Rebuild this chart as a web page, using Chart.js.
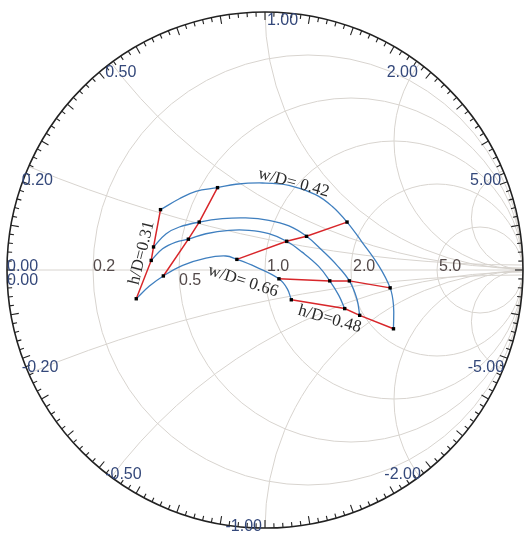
<!DOCTYPE html>
<html lang="en">
  <head>
    <meta charset="UTF-8" />
    <title>Smith Chart</title>
    <script src="https://cdn.jsdelivr.net/npm/chart.js"></script>
    <style>
      body {
        margin: 0;
        background: #fff;
      }
      #smith {
        display: block;
      }
    </style>
  </head>
  <body>
    <canvas id="smith" width="527" height="534"></canvas>

    <script>
      // Smith chart grid values
      const resistanceCircles = [0.2, 0.5, 1, 2, 5];
      const resistanceLabels = ["0.2", "0.5", "1.0", "2.0", "5.0"];
      const reactanceArcs = [0.2, 0.5, 1, 2, 5, -0.2, -0.5, -1, -2, -5];
      const reactanceLabels = ["0.20", "0.50", "1.00", "2.00", "5.00",
        "-0.20", "-0.50", "-1.00", "-2.00", "-5.00"];

      // constant w/D curves, reflection coefficient (re, im)
      // marks = indices of the measured points (black squares)
      const wdA_re = [-0.405, -0.332, -0.268, -0.184, -0.113, -0.010, 0.093, 0.196, 0.260, 0.318, 0.376, 0.440, 0.485, 0.498, 0.498];
      const wdA_im = [0.233, 0.275, 0.304, 0.318, 0.331, 0.336, 0.327, 0.291, 0.246, 0.185, 0.108, 0.018, -0.069, -0.136, -0.227];
      const wdA_marks = [0, 3, 9, 12, 14];

      const wdB_re = [-0.432, -0.383, -0.332, -0.255, -0.165, -0.075, 0.015, 0.093, 0.161, 0.221, 0.279, 0.327, 0.356, 0.367];
      const wdB_im = [0.089, 0.140, 0.166, 0.185, 0.198, 0.201, 0.192, 0.170, 0.130, 0.076, 0.018, -0.042, -0.111, -0.175];
      const wdB_marks = [0, 3, 8, 11, 13];

      const wdC_re = [-0.441, -0.397, -0.345, -0.297, -0.229, -0.139, -0.062, 0.015, 0.084, 0.144, 0.208, 0.251, 0.286, 0.309];
      const wdC_im = [0.037, 0.082, 0.108, 0.119, 0.140, 0.153, 0.153, 0.140, 0.111, 0.069, 0.014, -0.042, -0.098, -0.149];
      const wdC_marks = [0, 3, 8, 11, 13];

      const wdD_re = [-0.499, -0.448, -0.394, -0.319, -0.229, -0.152, -0.109, -0.036, 0.054, 0.086, 0.102];
      const wdD_im = [-0.111, -0.062, -0.023, 0.018, 0.046, 0.054, 0.041, 0.012, -0.034, -0.072, -0.115];
      const wdD_marks = [0, 2, 6, 8, 10];

      const curveRe = [wdA_re, wdB_re, wdC_re, wdD_re];
      const curveIm = [wdA_im, wdB_im, wdC_im, wdD_im];
      const curveMarks = [wdA_marks, wdB_marks, wdC_marks, wdD_marks];

      // text notes on the curves: text, position (re, im), angle in degrees
      const noteText = ["w/D= 0.42", "w/D= 0.66", "h/D=0.31", "h/D=0.48"];
      const noteRe = [0.111, -0.085, -0.478, 0.251];
      const noteIm = [0.336, -0.043, 0.066, -0.190];
      const noteAngle = [15, 18, -76, 16];

      const BLUE = "#3f7fbf";
      const RED = "#d8262a";

      const datasets = [];
      // red lines of constant h/D through the k-th mark of every curve
      for (let k = 0; k < 5; k++) {
        datasets.push({
          data: curveRe.map((re, c) => ({ x: re[curveMarks[c][k]], y: curveIm[c][curveMarks[c][k]] })),
          showLine: true,
          borderColor: RED,
          borderWidth: 1.5,
          pointStyle: "rect",
          pointRadius: 2.4,
          pointBackgroundColor: "#000",
          pointBorderColor: "#000",
          pointBorderWidth: 0,
          order: 0,
        });
      }
      // blue curves of constant w/D
      curveRe.forEach((re, c) => {
        datasets.push({
          data: re.map((v, i) => ({ x: v, y: curveIm[c][i] })),
          showLine: true,
          borderColor: BLUE,
          borderWidth: 1.3,
          pointRadius: 0,
          tension: 0.4,
          order: 1,
        });
      });

      const smithGrid = {
        id: "smithGrid",
        beforeDatasetsDraw(chart) {
          const ctx = chart.ctx;
          const xs = chart.scales.x;
          const ys = chart.scales.y;
          const cx = xs.getPixelForValue(0);
          const cy = ys.getPixelForValue(0);
          const R = xs.getPixelForValue(1) - cx;
          const px = (v) => xs.getPixelForValue(v);
          const py = (v) => ys.getPixelForValue(v);

          // grid circles, clipped to the unit circle
          ctx.save();
          ctx.beginPath();
          ctx.arc(cx, cy, R, 0, 2 * Math.PI);
          ctx.clip();
          ctx.strokeStyle = "#d8d4cf";
          ctx.lineWidth = 1;
          resistanceCircles.forEach((r) => {
            ctx.beginPath();
            ctx.arc(px(r / (1 + r)), cy, R / (1 + r), 0, 2 * Math.PI);
            ctx.stroke();
          });
          reactanceArcs.forEach((x) => {
            ctx.beginPath();
            ctx.arc(px(1), py(1 / x), R / Math.abs(x), 0, 2 * Math.PI);
            ctx.stroke();
          });
          ctx.beginPath();
          ctx.moveTo(cx - R, cy);
          ctx.lineTo(cx + R, cy);
          ctx.stroke();
          ctx.restore();

          // outer rim and its ticks
          ctx.save();
          ctx.strokeStyle = "#222";
          ctx.lineWidth = 1.6;
          ctx.beginPath();
          ctx.arc(cx, cy, R, 0, 2 * Math.PI);
          ctx.stroke();
          ctx.lineWidth = 1.1;
          for (let deg = 0; deg < 360; deg += 2) {
            const a = (deg * Math.PI) / 180;
            const len = deg % 10 === 0 ? 8 : 4.5;
            ctx.beginPath();
            ctx.moveTo(cx + R * Math.cos(a), cy - R * Math.sin(a));
            ctx.lineTo(cx + (R - len) * Math.cos(a), cy - (R - len) * Math.sin(a));
            ctx.stroke();
          }

          // labels
          ctx.font = "16px 'Liberation Sans', Arial, sans-serif";
          ctx.fillStyle = "#34487a";
          reactanceArcs.forEach((x, i) => {
            const re = (x * x - 1) / (x * x + 1);
            const im = (2 * x) / (x * x + 1);
            const X = px(re);
            const Y = py(im);
            const upper = x > 0;
            let align, dx;
            if (Math.abs(re) < 0.01) {
              align = upper ? "left" : "right";
              dx = upper ? 2 : -3;
            } else if (re < 0) {
              align = "left";
              dx = -5;
            } else {
              align = "right";
              dx = upper ? -2 : 1;
            }
            ctx.textAlign = align;
            ctx.textBaseline = upper ? "top" : "alphabetic";
            ctx.fillText(reactanceLabels[i], X + dx, Y + 2);
          });
          ctx.textAlign = "left";
          ctx.textBaseline = "alphabetic";
          ctx.fillText("0.00", cx - R, cy + 1);
          ctx.textBaseline = "top";
          ctx.fillText("0.00", cx - R, cy + 3);

          ctx.fillStyle = "#544a4a";
          resistanceCircles.forEach((r, i) => {
            const X = px((r - 1) / (r + 1));
            const below = r === 0.5;
            ctx.textBaseline = below ? "top" : "alphabetic";
            ctx.fillText(resistanceLabels[i], X + (r < 1 ? 0 : 2), below ? cy + 3 : cy + 1);
          });
          ctx.restore();
        },
        afterDatasetsDraw(chart) {
          const ctx = chart.ctx;
          const xs = chart.scales.x;
          const ys = chart.scales.y;
          ctx.save();
          ctx.font = "17px 'Liberation Serif', 'Times New Roman', serif";
          ctx.fillStyle = "#2b2b2b";
          ctx.textAlign = "center";
          ctx.textBaseline = "middle";
          noteText.forEach((t, i) => {
            ctx.save();
            ctx.translate(xs.getPixelForValue(noteRe[i]), ys.getPixelForValue(noteIm[i]));
            ctx.rotate((noteAngle[i] * Math.PI) / 180);
            ctx.fillText(t, 0, 0);
            ctx.restore();
          });
          ctx.restore();
        },
      };

      new Chart(document.getElementById("smith"), {
        type: "scatter",
        data: { datasets },
        options: {
          responsive: false,
          animation: false,
          devicePixelRatio: 1,
          layout: { padding: { left: 7, right: 2, top: 11, bottom: 5 } },
          scales: {
            x: { type: "linear", min: -1, max: 1, display: false },
            y: { type: "linear", min: -1, max: 1, display: false },
          },
          plugins: {
            legend: { display: false },
            tooltip: { enabled: false },
          },
        },
        plugins: [smithGrid],
      });
    </script>
  </body>
</html>
